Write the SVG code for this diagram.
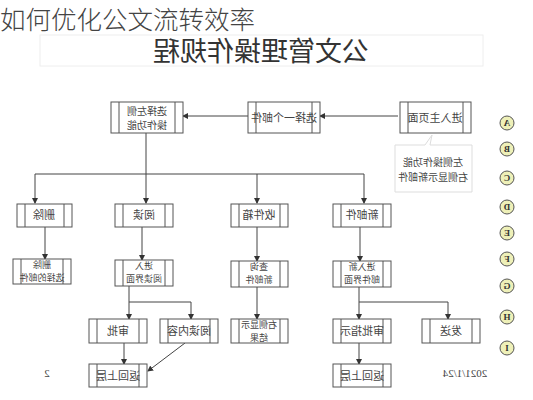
<svg xmlns="http://www.w3.org/2000/svg" width="533" height="400" viewBox="0 0 533 400">
<style>
.bx{fill:#fff;stroke:#555;stroke-width:1}
.in{stroke:#555;stroke-width:1}
.t{font-family:"Noto Sans CJK SC","Noto Sans",sans-serif;font-size:11px;fill:#444;text-anchor:middle}
.t1{font-family:"Noto Sans CJK SC","Noto Sans",sans-serif;font-size:10px;fill:#444;text-anchor:middle}
.t2{font-family:"Noto Sans CJK SC","Noto Sans",sans-serif;font-size:9px;fill:#444;text-anchor:middle}
.c{fill:none;stroke:#444;stroke-width:1}
.cir{fill:#eef0b8;stroke:#555;stroke-width:1}
.cl{font-family:"Liberation Serif",serif;font-size:9px;font-weight:bold;fill:#333;text-anchor:middle}
</style>
<defs>
<marker id="a" markerWidth="6" markerHeight="6" refX="5" refY="3" orient="auto" markerUnits="userSpaceOnUse">
<path d="M0,0 L6,3 L0,6 z" fill="#333"/>
</marker>
</defs>
<rect width="533" height="400" fill="#fff"/>
<text x="0" y="29" style="font-family:'Noto Sans CJK SC',sans-serif;font-size:25.5px;fill:#444;font-weight:300">如何优化公文流转效率</text>
<g id="title">
<rect x="40" y="35" width="443" height="31" fill="#fff" stroke="#eee"/>
<text x="-261" y="61" transform="scale(-1,1)" style="font-family:'Noto Sans CJK SC',sans-serif;font-size:27px;fill:#333;text-anchor:middle">公文管理操作规程</text>
</g>
<g id="connectors">
<path class="c" d="M398,116 H320" marker-end="url(#a)"/>
<path class="c" d="M248,116 H183" marker-end="url(#a)"/>
<path class="c" d="M146,133 V174 M35,174 H364"/>
<path class="c" d="M35,174 V203" marker-end="url(#a)"/>
<path class="c" d="M146,174 V203" marker-end="url(#a)"/>
<path class="c" d="M257,174 V203" marker-end="url(#a)"/>
<path class="c" d="M364,174 V203" marker-end="url(#a)"/>
<path class="c" d="M45,227 V259" marker-end="url(#a)"/>
<path class="c" d="M142,227 V260" marker-end="url(#a)"/>
<path class="c" d="M257,227 V261" marker-end="url(#a)"/>
<path class="c" d="M360,227 V261" marker-end="url(#a)"/>
<path class="c" d="M129,286 V302 H191"/>
<path class="c" d="M129,302 V319" marker-end="url(#a)"/>
<path class="c" d="M191,302 V319" marker-end="url(#a)"/>
<path class="c" d="M257,287 V319" marker-end="url(#a)"/>
<path class="c" d="M359,287 V302 H448"/>
<path class="c" d="M359,302 V319" marker-end="url(#a)"/>
<path class="c" d="M448,302 V319" marker-end="url(#a)"/>
<path class="c" d="M124,343 V364" marker-end="url(#a)"/>
<path class="c" d="M185,343 L148,371" marker-end="url(#a)"/>
<path class="c" d="M359,343 V364" marker-end="url(#a)"/>
</g>
<g id="n-main">
<rect class="bx" x="400" y="102" width="71" height="31"/>
<line class="in" x1="408" y1="102" x2="408" y2="133"/><line class="in" x1="463" y1="102" x2="463" y2="133"/>
<text class="t" x="-435" y="122" transform="scale(-1,1)">进入主页面</text>
</g>
<g id="n-note">
<path d="M395,145 H425 L432,135 L430,145 H472 V192 H395 Z" fill="#fff" stroke="#ddd"/>
<text class="t1" x="-433" y="166" transform="scale(-1,1)">左侧操作功能</text>
<text class="t1" x="-433" y="181" transform="scale(-1,1)">右侧显示新邮件</text>
</g>
<g id="n-select">
<rect class="bx" x="248" y="102" width="72" height="31"/>
<line class="in" x1="256" y1="102" x2="256" y2="133"/><line class="in" x1="312" y1="102" x2="312" y2="133"/>
<text class="t" x="-284" y="122" transform="scale(-1,1)">选择一个邮件</text>
</g>
<g id="n-left">
<rect class="bx" x="111" y="102" width="72" height="31"/>
<line class="in" x1="119" y1="102" x2="119" y2="133"/><line class="in" x1="175" y1="102" x2="175" y2="133"/>
<text class="t1" x="-147" y="115" transform="scale(-1,1)">选择左侧</text>
<text class="t1" x="-147" y="129" transform="scale(-1,1)">操作功能</text>
</g>
<g id="n-del">
<rect class="bx" x="17" y="204" width="55" height="23"/>
<line class="in" x1="25" y1="204" x2="25" y2="227"/><line class="in" x1="64" y1="204" x2="64" y2="227"/>
<text class="t" x="-44" y="219" transform="scale(-1,1)">删除</text>
</g>
<g id="n-read">
<rect class="bx" x="115" y="204" width="58" height="23"/>
<line class="in" x1="123" y1="204" x2="123" y2="227"/><line class="in" x1="165" y1="204" x2="165" y2="227"/>
<text class="t" x="-144" y="219" transform="scale(-1,1)">阅读</text>
</g>
<g id="n-inbox">
<rect class="bx" x="231" y="204" width="57" height="23"/>
<line class="in" x1="239" y1="204" x2="239" y2="227"/><line class="in" x1="280" y1="204" x2="280" y2="227"/>
<text class="t" x="-259" y="219" transform="scale(-1,1)">收件箱</text>
</g>
<g id="n-new">
<rect class="bx" x="333" y="204" width="58" height="23"/>
<line class="in" x1="341" y1="204" x2="341" y2="227"/><line class="in" x1="383" y1="204" x2="383" y2="227"/>
<text class="t" x="-362" y="219" transform="scale(-1,1)">新邮件</text>
</g>
<g id="n-delsel">
<rect class="bx" x="13" y="259" width="58" height="25"/>
<line class="in" x1="21" y1="259" x2="21" y2="284"/><line class="in" x1="63" y1="259" x2="63" y2="284"/>
<text class="t2" x="-42" y="268" transform="scale(-1,1)">删除</text>
<text class="t2" x="-42" y="281" transform="scale(-1,1)">选择的邮件</text>
</g>
<g id="n-readui">
<rect class="bx" x="115" y="260" width="58" height="26"/>
<line class="in" x1="123" y1="260" x2="123" y2="286"/><line class="in" x1="165" y1="260" x2="165" y2="286"/>
<text class="t2" x="-144" y="269" transform="scale(-1,1)">进入</text>
<text class="t2" x="-144" y="282" transform="scale(-1,1)">阅读界面</text>
</g>
<g id="n-query">
<rect class="bx" x="231" y="261" width="57" height="26"/>
<line class="in" x1="239" y1="261" x2="239" y2="287"/><line class="in" x1="280" y1="261" x2="280" y2="287"/>
<text class="t2" x="-259" y="270" transform="scale(-1,1)">查询</text>
<text class="t2" x="-259" y="283" transform="scale(-1,1)">新邮件</text>
</g>
<g id="n-newui">
<rect class="bx" x="333" y="261" width="58" height="26"/>
<line class="in" x1="341" y1="261" x2="341" y2="287"/><line class="in" x1="383" y1="261" x2="383" y2="287"/>
<text class="t2" x="-362" y="270" transform="scale(-1,1)">进入新</text>
<text class="t2" x="-362" y="283" transform="scale(-1,1)">邮件界面</text>
</g>
<g id="n-approve">
<rect class="bx" x="89" y="319" width="58" height="24"/>
<line class="in" x1="97" y1="319" x2="97" y2="343"/><line class="in" x1="139" y1="319" x2="139" y2="343"/>
<text class="t" x="-118" y="335" transform="scale(-1,1)">审批</text>
</g>
<g id="n-content">
<rect class="bx" x="160" y="319" width="58" height="24"/>
<line class="in" x1="168" y1="319" x2="168" y2="343"/><line class="in" x1="210" y1="319" x2="210" y2="343"/>
<text class="t" x="-189" y="335" transform="scale(-1,1)">阅读内容</text>
</g>
<g id="n-result">
<rect class="bx" x="231" y="319" width="57" height="24"/>
<line class="in" x1="239" y1="319" x2="239" y2="343"/><line class="in" x1="280" y1="319" x2="280" y2="343"/>
<text class="t2" x="-259" y="328" transform="scale(-1,1)">右侧显示</text>
<text class="t2" x="-259" y="341" transform="scale(-1,1)">结果</text>
</g>
<g id="n-instr">
<rect class="bx" x="333" y="319" width="58" height="24"/>
<line class="in" x1="341" y1="319" x2="341" y2="343"/><line class="in" x1="383" y1="319" x2="383" y2="343"/>
<text class="t" x="-362" y="335" transform="scale(-1,1)">审批指示</text>
</g>
<g id="n-send">
<rect class="bx" x="422" y="319" width="58" height="24"/>
<line class="in" x1="430" y1="319" x2="430" y2="343"/><line class="in" x1="472" y1="319" x2="472" y2="343"/>
<text class="t" x="-451" y="335" transform="scale(-1,1)">发送</text>
</g>
<g id="n-back1">
<rect class="bx" x="89" y="364" width="58" height="23"/>
<line class="in" x1="97" y1="364" x2="97" y2="387"/><line class="in" x1="139" y1="364" x2="139" y2="387"/>
<text class="t" x="-118" y="380" transform="scale(-1,1)">返回上层</text>
</g>
<g id="n-back2">
<rect class="bx" x="333" y="364" width="58" height="23"/>
<line class="in" x1="341" y1="364" x2="341" y2="387"/><line class="in" x1="383" y1="364" x2="383" y2="387"/>
<text class="t" x="-362" y="380" transform="scale(-1,1)">返回上层</text>
</g>
<g id="footer">
<text x="-47" y="377" transform="scale(-1,1)" style="font-family:'Liberation Serif',serif;font-size:11px;fill:#444;text-anchor:middle">2</text>
<text x="-465" y="377" transform="scale(-1,1)" style="font-family:'Liberation Serif',serif;font-size:11px;fill:#444;text-anchor:middle">2021/1/24</text>
</g>
<g id="legend">
<circle class="cir" cx="507" cy="123" r="7"/><text class="cl" x="-507" y="126" transform="scale(-1,1)">A</text>
<circle class="cir" cx="507" cy="149" r="7"/><text class="cl" x="-507" y="152" transform="scale(-1,1)">B</text>
<circle class="cir" cx="507" cy="178" r="7"/><text class="cl" x="-507" y="181" transform="scale(-1,1)">C</text>
<circle class="cir" cx="507" cy="207" r="7"/><text class="cl" x="-507" y="210" transform="scale(-1,1)">D</text>
<circle class="cir" cx="507" cy="233" r="7"/><text class="cl" x="-507" y="236" transform="scale(-1,1)">E</text>
<circle class="cir" cx="507" cy="259" r="7"/><text class="cl" x="-507" y="262" transform="scale(-1,1)">F</text>
<circle class="cir" cx="507" cy="286" r="7"/><text class="cl" x="-507" y="289" transform="scale(-1,1)">G</text>
<circle class="cir" cx="507" cy="317" r="7"/><text class="cl" x="-507" y="320" transform="scale(-1,1)">H</text>
<circle class="cir" cx="507" cy="348" r="7"/><text class="cl" x="-507" y="351" transform="scale(-1,1)">I</text>
</g>
</svg>
